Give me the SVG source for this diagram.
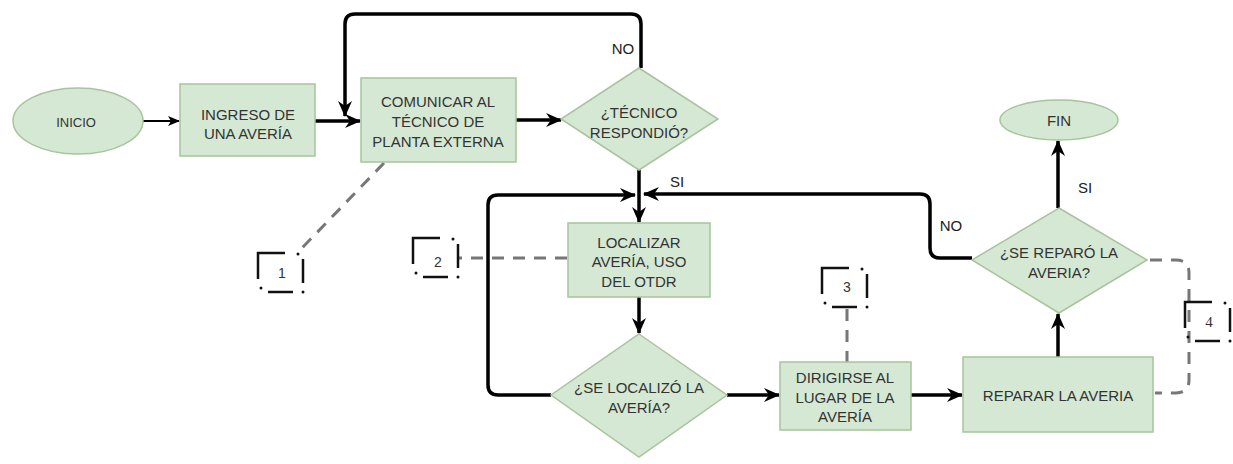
<svg xmlns="http://www.w3.org/2000/svg" width="1233" height="464" viewBox="0 0 1233 464">
<style>
.node{fill:#d5e8d4;stroke:#a7c49c;stroke-width:1.5}
.t{font-family:"Liberation Sans",Arial,sans-serif;font-size:15px;fill:#333;text-anchor:middle}
.lbl{font-family:"Liberation Sans",Arial,sans-serif;font-size:15px;fill:#222;text-anchor:middle}
.e{fill:none;stroke:#000;stroke-width:3.5}
.thin{fill:none;stroke:#000;stroke-width:1.8}
.dash{fill:none;stroke:#777;stroke-width:3;stroke-dasharray:12 9}
.br{fill:none;stroke:#111;stroke-width:2.5}
.num{font-family:"Liberation Sans",Arial,sans-serif;font-size:14px;fill:#333;text-anchor:middle}
</style>
<defs>
<marker id="ah" viewBox="0 0 16 14" refX="15" refY="7" markerWidth="16" markerHeight="14" markerUnits="userSpaceOnUse" orient="auto">
<path d="M0,0 L16,7 L0,14 L5,7 Z" fill="#000"/>
</marker>
<marker id="ahs" viewBox="0 0 12 10" refX="11" refY="5" markerWidth="12" markerHeight="10" markerUnits="userSpaceOnUse" orient="auto">
<path d="M0,0 L12,5 L0,10 L3,5 Z" fill="#000"/>
</marker>
<g id="bracket">
<path class="br" d="M0,26 L0,0 L27,0"/>
<circle cx="40" cy="1" r="1.5" fill="#111"/>
<path class="br" d="M45,6 L45,30"/>
<circle cx="45" cy="39" r="1.5" fill="#111"/>
<path class="br" d="M10,39 L35,39"/>
<circle cx="3" cy="35" r="1.5" fill="#111"/>
</g>
</defs>
<rect width="1233" height="464" fill="#fff"/>

<g id="connectors">
<path class="thin" d="M143,121 L179,121" marker-end="url(#ahs)"/>
<path class="e" d="M315,121 L360,121" marker-end="url(#ah)"/>
<path class="e" d="M516,120 L561,120" marker-end="url(#ah)"/>
<path class="e" d="M641,68 L641,24 Q641,14 631,14 L355,14 Q345,14 345,24 L345,116" marker-end="url(#ah)"/>
<path class="e" d="M639,170 L639,222" marker-end="url(#ah)"/>
<path class="e" d="M551,395 L498,395 Q488,395 488,385 L488,205 Q488,195 498,195 L635,195" marker-end="url(#ah)"/>
<path class="e" d="M972,258 L940,258 Q930,258 930,248 L930,204 Q930,194 920,194 L644,194" marker-end="url(#ah)"/>
<path class="e" d="M639,297 L639,333" marker-end="url(#ah)"/>
<path class="e" d="M727,395 L779,395" marker-end="url(#ah)"/>
<path class="e" d="M911,395 L962,395" marker-end="url(#ah)"/>
<path class="e" d="M1058,357 L1058,314" marker-end="url(#ah)"/>
<path class="e" d="M1058,208 L1058,141" marker-end="url(#ah)"/>
<text class="lbl" x="623" y="54">NO</text>
<text class="lbl" x="677" y="187">SI</text>
<text class="lbl" x="951" y="231">NO</text>
<text class="lbl" x="1085" y="193">SI</text>
<path class="dash" d="M384,163 L302,248"/>
<path class="dash" d="M567,258 L459,258"/>
<path class="dash" d="M847,309 L847,362"/>
<path class="dash" d="M1150,260 L1176,260 Q1189,260 1189,273 L1189,380 Q1189,393 1176,393 L1155,393"/>
</g>

<g id="inicio">
<ellipse class="node" cx="78" cy="121" rx="65" ry="33"/>
<text class="t" x="76" y="127" style="font-size:13px">INICIO</text>
</g>
<g id="ingreso">
<rect class="node" x="180" y="84" width="135" height="72"/>
<text class="t" x="248" y="120">INGRESO DE</text>
<text class="t" x="248" y="139">UNA AVERÍA</text>
</g>
<g id="comunicar">
<rect class="node" x="361" y="78" width="155" height="84"/>
<text class="t" x="438" y="107">COMUNICAR AL</text>
<text class="t" x="438" y="127">TÉCNICO DE</text>
<text class="t" x="438" y="147">PLANTA EXTERNA</text>
</g>
<g id="tecnico-respondio">
<polygon class="node" points="639,68 718,119 639,170 561,119"/>
<text class="t" x="639" y="118">¿TÉCNICO</text>
<text class="t" x="639" y="138">RESPONDIÓ?</text>
</g>
<g id="localizar">
<rect class="node" x="568" y="223" width="142" height="74"/>
<text class="t" x="639" y="248">LOCALIZAR</text>
<text class="t" x="639" y="267">AVERÍA, USO</text>
<text class="t" x="639" y="287">DEL OTDR</text>
</g>
<g id="se-localizo">
<polygon class="node" points="639,334 727,395 639,457 551,395"/>
<text class="t" x="639" y="393">¿SE LOCALIZÓ LA</text>
<text class="t" x="639" y="413">AVERÍA?</text>
</g>
<g id="dirigirse">
<rect class="node" x="780" y="362" width="131" height="68"/>
<text class="t" x="845" y="383">DIRIGIRSE AL</text>
<text class="t" x="845" y="403">LUGAR DE LA</text>
<text class="t" x="845" y="422">AVERÍA</text>
</g>
<g id="reparar">
<rect class="node" x="963" y="357" width="190" height="75"/>
<text class="t" x="1058" y="401">REPARAR LA AVERIA</text>
</g>
<g id="se-reparo">
<polygon class="node" points="1059,208 1147,260 1059,313 972,260"/>
<text class="t" x="1059" y="258">¿SE REPARÓ LA</text>
<text class="t" x="1059" y="278">AVERIA?</text>
</g>
<g id="fin">
<ellipse class="node" cx="1059" cy="120" rx="59" ry="20"/>
<text class="t" x="1059" y="126">FIN</text>
</g>

<g id="nota1">
<use href="#bracket" x="258" y="253"/>
<text class="num" x="282" y="278">1</text>
</g>
<g id="nota2">
<use href="#bracket" x="413" y="238"/>
<text class="num" x="438" y="267">2</text>
</g>
<g id="nota3">
<use href="#bracket" x="822" y="268"/>
<text class="num" x="847" y="292">3</text>
</g>
<g id="nota4">
<use href="#bracket" x="1185" y="302"/>
<text class="num" x="1209" y="327" style="font-family:'Liberation Serif',serif;font-size:15px">4</text>
</g>
</svg>
